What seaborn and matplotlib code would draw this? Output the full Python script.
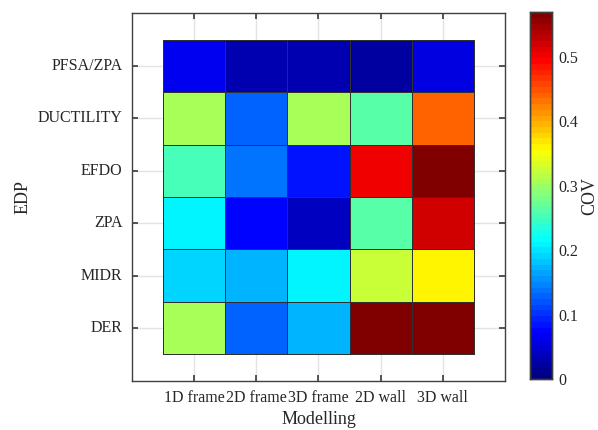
import numpy as np
import pandas as pd
import matplotlib
matplotlib.use("Agg")
import matplotlib.pyplot as plt
from matplotlib.colors import LinearSegmentedColormap
import seaborn as sns

# data
edp = ["PFSA/ZPA", "DUCTILITY", "EFDO", "ZPA", "MIDR", "DER"]
modelling = ["1D frame", "2D frame", "3D frame", "2D wall", "3D wall"]

pfsa_zpa = [0.071, 0.035, 0.035, 0.024, 0.062]
ductility = [0.303, 0.127, 0.303, 0.258, 0.442]
efdo = [0.250, 0.135, 0.088, 0.498, 0.569]
zpa = [0.213, 0.080, 0.043, 0.261, 0.524]
midr = [0.194, 0.169, 0.213, 0.322, 0.356]
der = [0.303, 0.127, 0.177, 0.569, 0.569]

cov_max = 0.569

df = pd.DataFrame([pfsa_zpa, ductility, efdo, zpa, midr, der],
                  index=edp, columns=modelling)

# MATLAB style jet, 64 levels
jet_dict = {
    'red': [(0, 0, 0), (3/8, 0, 0), (5/8, 1, 1), (7/8, 1, 1), (1, 0.5, 0.5)],
    'green': [(0, 0, 0), (1/8, 0, 0), (3/8, 1, 1), (5/8, 1, 1), (7/8, 0, 0), (1, 0, 0)],
    'blue': [(0, 0.5, 0.5), (1/8, 1, 1), (3/8, 1, 1), (5/8, 0, 0), (1, 0, 0)],
}
mjet = LinearSegmentedColormap('mjet', jet_dict, N=64)

sns.set_theme(style="white")
plt.rcParams['font.family'] = ['Liberation Serif', 'DejaVu Serif']
plt.rcParams['text.color'] = '#262626'

fig = plt.figure(figsize=(5.98, 4.30), dpi=100)
ax = fig.add_axes([0.2207, 0.1147, 0.6237, 0.8543])
cax = fig.add_axes([0.8863, 0.1179, 0.0363, 0.8535])

sns.heatmap(
    df,
    ax=ax,
    cbar_ax=cax,
    cmap=mjet,
    vmin=0,
    vmax=cov_max,
    linewidths=0.7,
    linecolor='#303030',
    cbar_kws={'ticks': [0, 0.1, 0.2, 0.3, 0.4, 0.5]}
)

# padding around the cells, like the reference
ax.set_xlim(-0.5, 5.5)
ax.set_ylim(6.5, -0.5)
ax.grid(True, color='#e3e3e3', linewidth=1)
ax.set_axisbelow(True)

for s in ax.spines.values():
    s.set_visible(True)
    s.set_color('#404040')
    s.set_linewidth(1)

ax.tick_params(axis='both', which='both', direction='in', length=4,
               color='#404040', labelsize=11.5, labelcolor='#262626',
               top=True, right=True, bottom=True, left=True,
               labeltop=False, labelright=False)
ax.tick_params(axis='y', pad=7)
ax.tick_params(axis='x', pad=7)
plt.setp(ax.get_yticklabels(), rotation=0)
plt.setp(ax.get_xticklabels(), rotation=0)

ax.set_xlabel('Modelling', fontsize=13, labelpad=3)
ax.set_ylabel('EDP', fontsize=13, labelpad=4)

cax.tick_params(direction='in', length=3, color='#404040', labelsize=11.5,
                labelcolor='#262626', pad=5)
cax.set_yticklabels(['0', '0.1', '0.2', '0.3', '0.4', '0.5'])
for s in cax.spines.values():
    s.set_visible(True)
    s.set_color('#404040')
    s.set_linewidth(1)
cax.set_ylabel('COV', fontsize=13, labelpad=2)

fig.savefig('out.png', dpi=100)
